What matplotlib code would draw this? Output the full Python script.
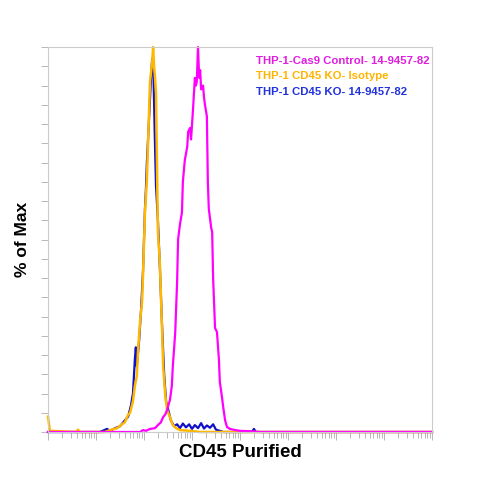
import numpy as np
import matplotlib
matplotlib.use("Agg")
import matplotlib.pyplot as plt
from matplotlib.ticker import LogLocator, NullFormatter

plt.rcParams["font.family"] = ["Liberation Sans", "DejaVu Sans"]

# histogram traces, x in decades (log10 of CD45 signal), y in % of max
iso_logx = [0.0, 0.04, 0.6, 0.62, 0.67, 1.19, 1.29, 1.44, 1.54, 1.60, 1.67, 1.71, 1.77,
            1.81, 1.85, 1.875, 1.92, 1.96, 1.98, 2.02, 2.06, 2.125, 2.17, 2.19, 2.21,
            2.23, 2.25, 2.27, 2.29, 2.33, 2.375, 2.40, 2.44, 2.48, 2.54, 2.60, 2.67,
            2.75, 2.96, 3.17, 8.0]
iso_pct = [4.0, 0.3, 0.0, 0.6, 0.0, 0.0, 0.5, 1.0, 2.0, 2.5, 4.5, 5.0, 8.0,
           12.0, 14.5, 21.0, 29.0, 34.0, 41.0, 57.0, 65.5, 91.0, 96.0, 100.0, 95.0,
           92.0, 88.0, 70.0, 52.0, 44.0, 27.0, 17.0, 10.0, 5.7, 3.9, 1.8, 1.0,
           0.5, 0.3, 0.0, 0.0]

ko_logx = [0.0, 1.08, 1.23, 1.29, 1.40, 1.50, 1.60, 1.67, 1.73, 1.77, 1.81, 1.83, 1.85,
           1.90, 1.94, 1.98, 2.02, 2.04, 2.06, 2.10, 2.15, 2.17, 2.19, 2.23, 2.25,
           2.29, 2.33, 2.375, 2.42, 2.46, 2.50, 2.56, 2.625, 2.69, 2.75, 2.81, 2.875,
           2.94, 3.0, 3.06, 3.125, 3.19, 3.25, 3.31, 3.375, 3.44, 3.50, 3.58, 3.65,
           4.25, 4.29, 4.33, 8.0]
ko_pct = [0.0, 0.0, 0.8, 0.3, 1.0, 1.5, 3.0, 4.0, 7.0, 10.0, 19.0, 22.0, 17.0,
          24.0, 32.0, 42.0, 58.0, 63.0, 70.0, 80.0, 93.0, 97.0, 97.0, 74.0, 64.0,
          55.0, 43.0, 28.0, 15.0, 8.0, 6.0, 3.0, 1.5, 2.0, 1.0, 2.2, 1.2,
          2.0, 0.8, 1.8, 1.0, 2.3, 0.9, 1.7, 1.1, 2.0, 0.6, 0.3, 0.0,
          0.0, 0.8, 0.0, 0.0]

ctrl_logx = [0.0, 1.92, 1.98, 2.04, 2.125, 2.23, 2.29, 2.35, 2.40, 2.44, 2.48, 2.54,
             2.58, 2.60, 2.65, 2.69, 2.71, 2.75, 2.79, 2.81, 2.85, 2.90, 2.92, 2.96,
             2.98, 3.02, 3.06, 3.08, 3.10, 3.125, 3.15, 3.17, 3.19, 3.23, 3.25, 3.27,
             3.31, 3.33, 3.35, 3.40, 3.42, 3.44, 3.48, 3.52, 3.56, 3.58, 3.625, 3.65,
             3.69, 3.73, 3.79, 3.90, 4.0, 4.21, 4.42, 8.0]
ctrl_pct = [0.0, 0.0, 0.5, 0.3, 0.8, 1.0, 1.8, 2.5, 3.9, 4.5, 5.7, 8.3,
            12.0, 17.0, 25.7, 39.0, 50.0, 54.0, 57.0, 65.0, 70.6, 74.0, 78.0, 79.0,
            76.0, 83.6, 92.0, 90.0, 91.0, 100.0, 92.0, 94.0, 89.0, 90.0, 87.0, 85.0,
            82.0, 65.0, 58.0, 53.0, 52.0, 40.0, 27.0, 26.0, 19.0, 13.0, 9.0, 6.5,
            3.0, 1.3, 0.8, 0.5, 0.3, 0.2, 0.0, 0.0]

labels = ["THP-1-Cas9 Control- 14-9457-82",
          "THP-1 CD45 KO- Isotype",
          "THP-1 CD45 KO- 14-9457-82"]
label_colors = ["#e01ee0", "#ffb400", "#2233dd"]

fig = plt.figure(figsize=(4.8, 4.8), dpi=100)
ax = fig.add_axes([0.1, 0.1, 0.8, 0.802])

ax.plot(10 ** np.array(ko_logx), ko_pct, color="#1010c8", lw=1.6, clip_on=False)
ax.plot(10 ** np.array(iso_logx), iso_pct, color="#ffb800", lw=1.8, clip_on=False)
ax.plot(10 ** np.array(ctrl_logx), ctrl_pct, color="#ff00ff", lw=1.6, clip_on=False)

ax.set_xscale("log")
ax.set_xlim(1, 1e8)
ax.set_ylim(0, 100)
ax.xaxis.set_major_locator(LogLocator(base=10, numticks=20))
ax.xaxis.set_minor_locator(LogLocator(base=10, subs=np.arange(2, 10), numticks=20))
ax.xaxis.set_major_formatter(NullFormatter())
ax.xaxis.set_minor_formatter(NullFormatter())
ax.set_yticks(np.arange(0, 101, 5))
ax.set_yticklabels([])

for side in ["top", "right", "bottom", "left"]:
    ax.spines[side].set_color("#cccccc")
    ax.spines[side].set_linewidth(0.8)
ax.tick_params(axis="both", which="both", direction="out", color="#b8b8b8", width=0.7)
ax.tick_params(axis="x", which="major", length=6)
ax.tick_params(axis="x", which="minor", length=4)
ax.tick_params(axis="y", which="major", length=5)

ax.set_xlabel("CD45 Purified", fontsize=13.5, fontweight="bold")
ax.xaxis.set_label_coords(0.5, -0.03)
ax.set_ylabel("% of Max", fontsize=12.5, fontweight="bold")
ax.yaxis.set_label_coords(-0.048, 0.5)

for i, (txt, col) in enumerate(zip(labels, label_colors)):
    ax.text(0.542, [0.963, 0.925, 0.883][i], txt, color=col, fontsize=8.2,
            fontweight="bold", transform=ax.transAxes, va="center", ha="left")

fig.savefig("out.png", dpi=100)
